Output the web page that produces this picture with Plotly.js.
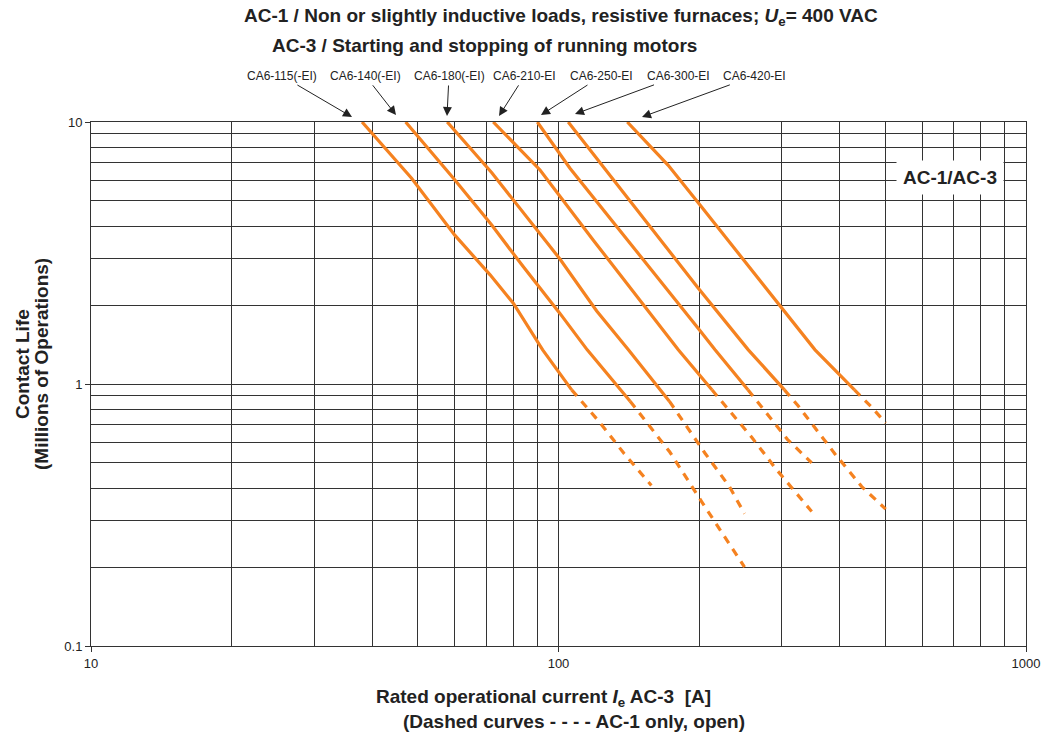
<!DOCTYPE html>
<html><head><meta charset="utf-8">
<script src="https://cdn.plot.ly/plotly-3.0.1.min.js"></script>
<style>html,body{margin:0;padding:0;background:#fff}#chart{width:1060px;height:736px}</style>
</head><body><div id="chart"></div>
<script>
// ---- data ----
const models = ['CA6-115(-EI)', 'CA6-140(-EI)', 'CA6-180(-EI)', 'CA6-210-EI', 'CA6-250-EI', 'CA6-300-EI', 'CA6-420-EI'];

const ca6_115_ac3_current = [38, 48.5, 60, 71.4, 80.1, 92.5, 106.7];
const ca6_115_ac3_life    = [10, 6.1, 3.7, 2.61, 2.03, 1.35, 0.95];
const ca6_115_ac1_current = [106.7, 114, 122, 138, 158];
const ca6_115_ac1_life    = [0.95, 0.83, 0.72, 0.544, 0.41];

const ca6_140_ac3_current = [47.1, 59.6, 71.9, 84.1, 100.7, 115.2, 142.3];
const ca6_140_ac3_life    = [10, 6.1, 4.05, 2.8, 1.86, 1.35, 0.86];
const ca6_140_ac1_current = [142.3, 173, 202.5, 250];
const ca6_140_ac1_life    = [0.86, 0.55, 0.355, 0.2];

const ca6_180_ac3_current = [57.8, 72, 100.7, 120.7, 141.1, 172.6];
const ca6_180_ac3_life    = [10, 6.4, 3.0, 1.9, 1.35, 0.86];
const ca6_180_ac1_current = [172.6, 205.8, 232, 250];
const ca6_180_ac1_life    = [0.86, 0.544, 0.406, 0.32];

const ca6_210_ac3_current = [72.5, 91.3, 118.7, 180.4, 212.9];
const ca6_210_ac3_life    = [10, 6.56, 3.54, 1.35, 0.95];
const ca6_210_ac1_current = [212.9, 259, 293, 348];
const ca6_210_ac1_life    = [0.95, 0.626, 0.47, 0.326];

const ca6_250_ac3_current = [90.1, 105.8, 199.1, 216.2, 254.2];
const ca6_250_ac3_life    = [10, 6.66, 1.63, 1.35, 0.95];
const ca6_250_ac1_current = [254.2, 289, 308.7, 348];
const ca6_250_ac1_life    = [0.95, 0.71, 0.615, 0.5];

const ca6_300_ac3_current = [104.9, 199.1, 254.7, 304.3];
const ca6_300_ac3_life    = [10, 2.32, 1.35, 0.95];
const ca6_300_ac1_current = [304.3, 325.8, 390.3, 445.2, 501];
const ca6_300_ac1_life    = [0.95, 0.824, 0.541, 0.406, 0.333];

const ca6_420_ac3_current = [140.3, 171.5, 200.8, 297.7, 353.8, 429.7];
const ca6_420_ac3_life    = [10, 6.85, 4.82, 2.0, 1.35, 0.95];
const ca6_420_ac1_current = [429.7, 467.7, 501];
const ca6_420_ac1_life    = [0.95, 0.815, 0.71];

const xTickVals = [10, 100, 1000];
const xTickText = ['10', '100', '1000'];
const yTickVals = [0.1, 1, 10];
const yTickText = ['0.1', '1', '10'];
const xMinorVals = [20, 30, 40, 50, 60, 70, 80, 90, 200, 300, 400, 500, 600, 700, 800, 900];
const yMinorVals = [0.2, 0.3, 0.4, 0.5, 0.6, 0.7, 0.8, 0.9, 2, 3, 4, 5, 6, 7, 8, 9];

// ---- drawing ----
const ORANGE = '#f58220';
const GRID = '#333333';
const FONT = 'Liberation Sans, Arial, Helvetica, sans-serif';

const series = [
  [ca6_115_ac3_current, ca6_115_ac3_life, ca6_115_ac1_current, ca6_115_ac1_life],
  [ca6_140_ac3_current, ca6_140_ac3_life, ca6_140_ac1_current, ca6_140_ac1_life],
  [ca6_180_ac3_current, ca6_180_ac3_life, ca6_180_ac1_current, ca6_180_ac1_life],
  [ca6_210_ac3_current, ca6_210_ac3_life, ca6_210_ac1_current, ca6_210_ac1_life],
  [ca6_250_ac3_current, ca6_250_ac3_life, ca6_250_ac1_current, ca6_250_ac1_life],
  [ca6_300_ac3_current, ca6_300_ac3_life, ca6_300_ac1_current, ca6_300_ac1_life],
  [ca6_420_ac3_current, ca6_420_ac3_life, ca6_420_ac1_current, ca6_420_ac1_life]
];

const traces = [];
series.forEach((s, i) => {
  traces.push({x: s[0], y: s[1], mode: 'lines', name: models[i] + ' AC-3',
    line: {color: ORANGE, width: 3.2}, hoverinfo: 'x+y+name'});
  traces.push({x: s[2], y: s[3], mode: 'lines', name: models[i] + ' AC-1',
    line: {color: ORANGE, width: 3.2, dash: '8px,7px'}, hoverinfo: 'x+y+name'});
});

// plot area in pixels: left 91, right 1026, top 122, bottom 646
const L = 91, R = 1026, T = 122, B = 646;
const px = v => (v - L) / (R - L);
const py = v => (B - v) / (B - T);

// label centres and arrow heads (pixels)
const labelX = [282, 365.5, 449, 524.5, 601.5, 678, 754];
const labelY = 76;
const arrowHead = [[352,117],[396,115],[447,116],[499,116],[541,115],[575,114],[642,117]];

const annotations = [];
models.forEach((m, i) => {
  annotations.push({xref: 'paper', yref: 'paper', x: px(arrowHead[i][0]), y: py(arrowHead[i][1]),
    text: m, showarrow: true, axref: 'pixel', ayref: 'pixel',
    ax: labelX[i] - arrowHead[i][0], ay: labelY - arrowHead[i][1],
    arrowhead: 2, arrowsize: 1.8, arrowwidth: 1, arrowcolor: '#222', standoff: 0, startstandoff: 1,
    font: {family: FONT, size: 12, color: '#222'}});
});

// titles
annotations.push({xref: 'paper', yref: 'paper', x: px(242), y: py(17), xanchor: 'left', yanchor: 'middle',
  showarrow: false, font: {family: FONT, size: 19, color: '#222'},
  text: '<b>AC-1 / Non or slightly inductive loads, resistive furnaces; <i>U</i><sub>e</sub>= 400 VAC</b>'});
annotations.push({xref: 'paper', yref: 'paper', x: px(270), y: py(45), xanchor: 'left', yanchor: 'middle',
  showarrow: false, font: {family: FONT, size: 19, color: '#222'},
  text: '<b>AC-3 / Starting and stopping of running motors</b>'});
// x axis title
annotations.push({xref: 'paper', yref: 'paper', x: px(374), y: py(698), xanchor: 'left', yanchor: 'middle',
  showarrow: false, font: {family: FONT, size: 19, color: '#222'},
  text: '<b>Rated operational current <i>I</i><sub>e</sub> AC-3 &nbsp;[A]</b>'});
annotations.push({xref: 'paper', yref: 'paper', x: px(400.7), y: py(721), xanchor: 'left', yanchor: 'middle',
  showarrow: false, font: {family: FONT, size: 19, color: '#222'},
  text: '<b>(Dashed curves - - - - AC-1 only, open)</b>'});
// y axis title
annotations.push({xref: 'paper', yref: 'paper', x: px(22), y: py(364), xanchor: 'center', yanchor: 'middle',
  textangle: -90, showarrow: false, font: {family: FONT, size: 19, color: '#222'},
  text: '<b>Contact Life</b>'});
annotations.push({xref: 'paper', yref: 'paper', x: px(41), y: py(364), xanchor: 'center', yanchor: 'middle',
  textangle: -90, showarrow: false, font: {family: FONT, size: 19, color: '#222'},
  text: '<b>(Millions of Operations)</b>'});
// in-plot label
annotations.push({xref: 'paper', yref: 'paper', x: px(950), y: py(177), xanchor: 'center', yanchor: 'middle',
  showarrow: false, bgcolor: '#ffffff', borderpad: 6, font: {family: FONT, size: 19, color: '#222'},
  text: '<b>AC-1/AC-3</b>'});

const layout = {
  width: 1060, height: 736,
  margin: {l: L, r: 1060 - R, t: T, b: 736 - B, pad: 0},
  paper_bgcolor: '#ffffff', plot_bgcolor: '#ffffff',
  showlegend: false,
  font: {family: FONT, color: '#222'},
  xaxis: {type: 'log', range: [1, 3], tickmode: 'array', tickvals: xTickVals, ticktext: xTickText,
    ticks: 'outside', ticklen: 5, tickwidth: 1, tickcolor: GRID,
    tickfont: {family: FONT, size: 13, color: '#222'},
    showgrid: true, gridcolor: GRID, gridwidth: 1,
    minor: {tickmode: 'array', tickvals: xMinorVals, showgrid: true, gridcolor: GRID, gridwidth: 1, ticks: ''},
    showline: true, linecolor: GRID, linewidth: 1, mirror: true, zeroline: false, fixedrange: true},
  yaxis: {type: 'log', range: [-1, 1], tickmode: 'array', tickvals: yTickVals, ticktext: yTickText,
    ticks: 'outside', ticklen: 5, tickwidth: 1, tickcolor: GRID,
    tickfont: {family: FONT, size: 13, color: '#222'},
    showgrid: true, gridcolor: GRID, gridwidth: 1,
    minor: {tickmode: 'array', tickvals: yMinorVals, showgrid: true, gridcolor: GRID, gridwidth: 1, ticks: ''},
    showline: true, linecolor: GRID, linewidth: 1, mirror: true, zeroline: false, fixedrange: true},
  annotations: annotations
};

Plotly.newPlot('chart', traces, layout, {displayModeBar: false, staticPlot: true});
</script>
</body></html>
